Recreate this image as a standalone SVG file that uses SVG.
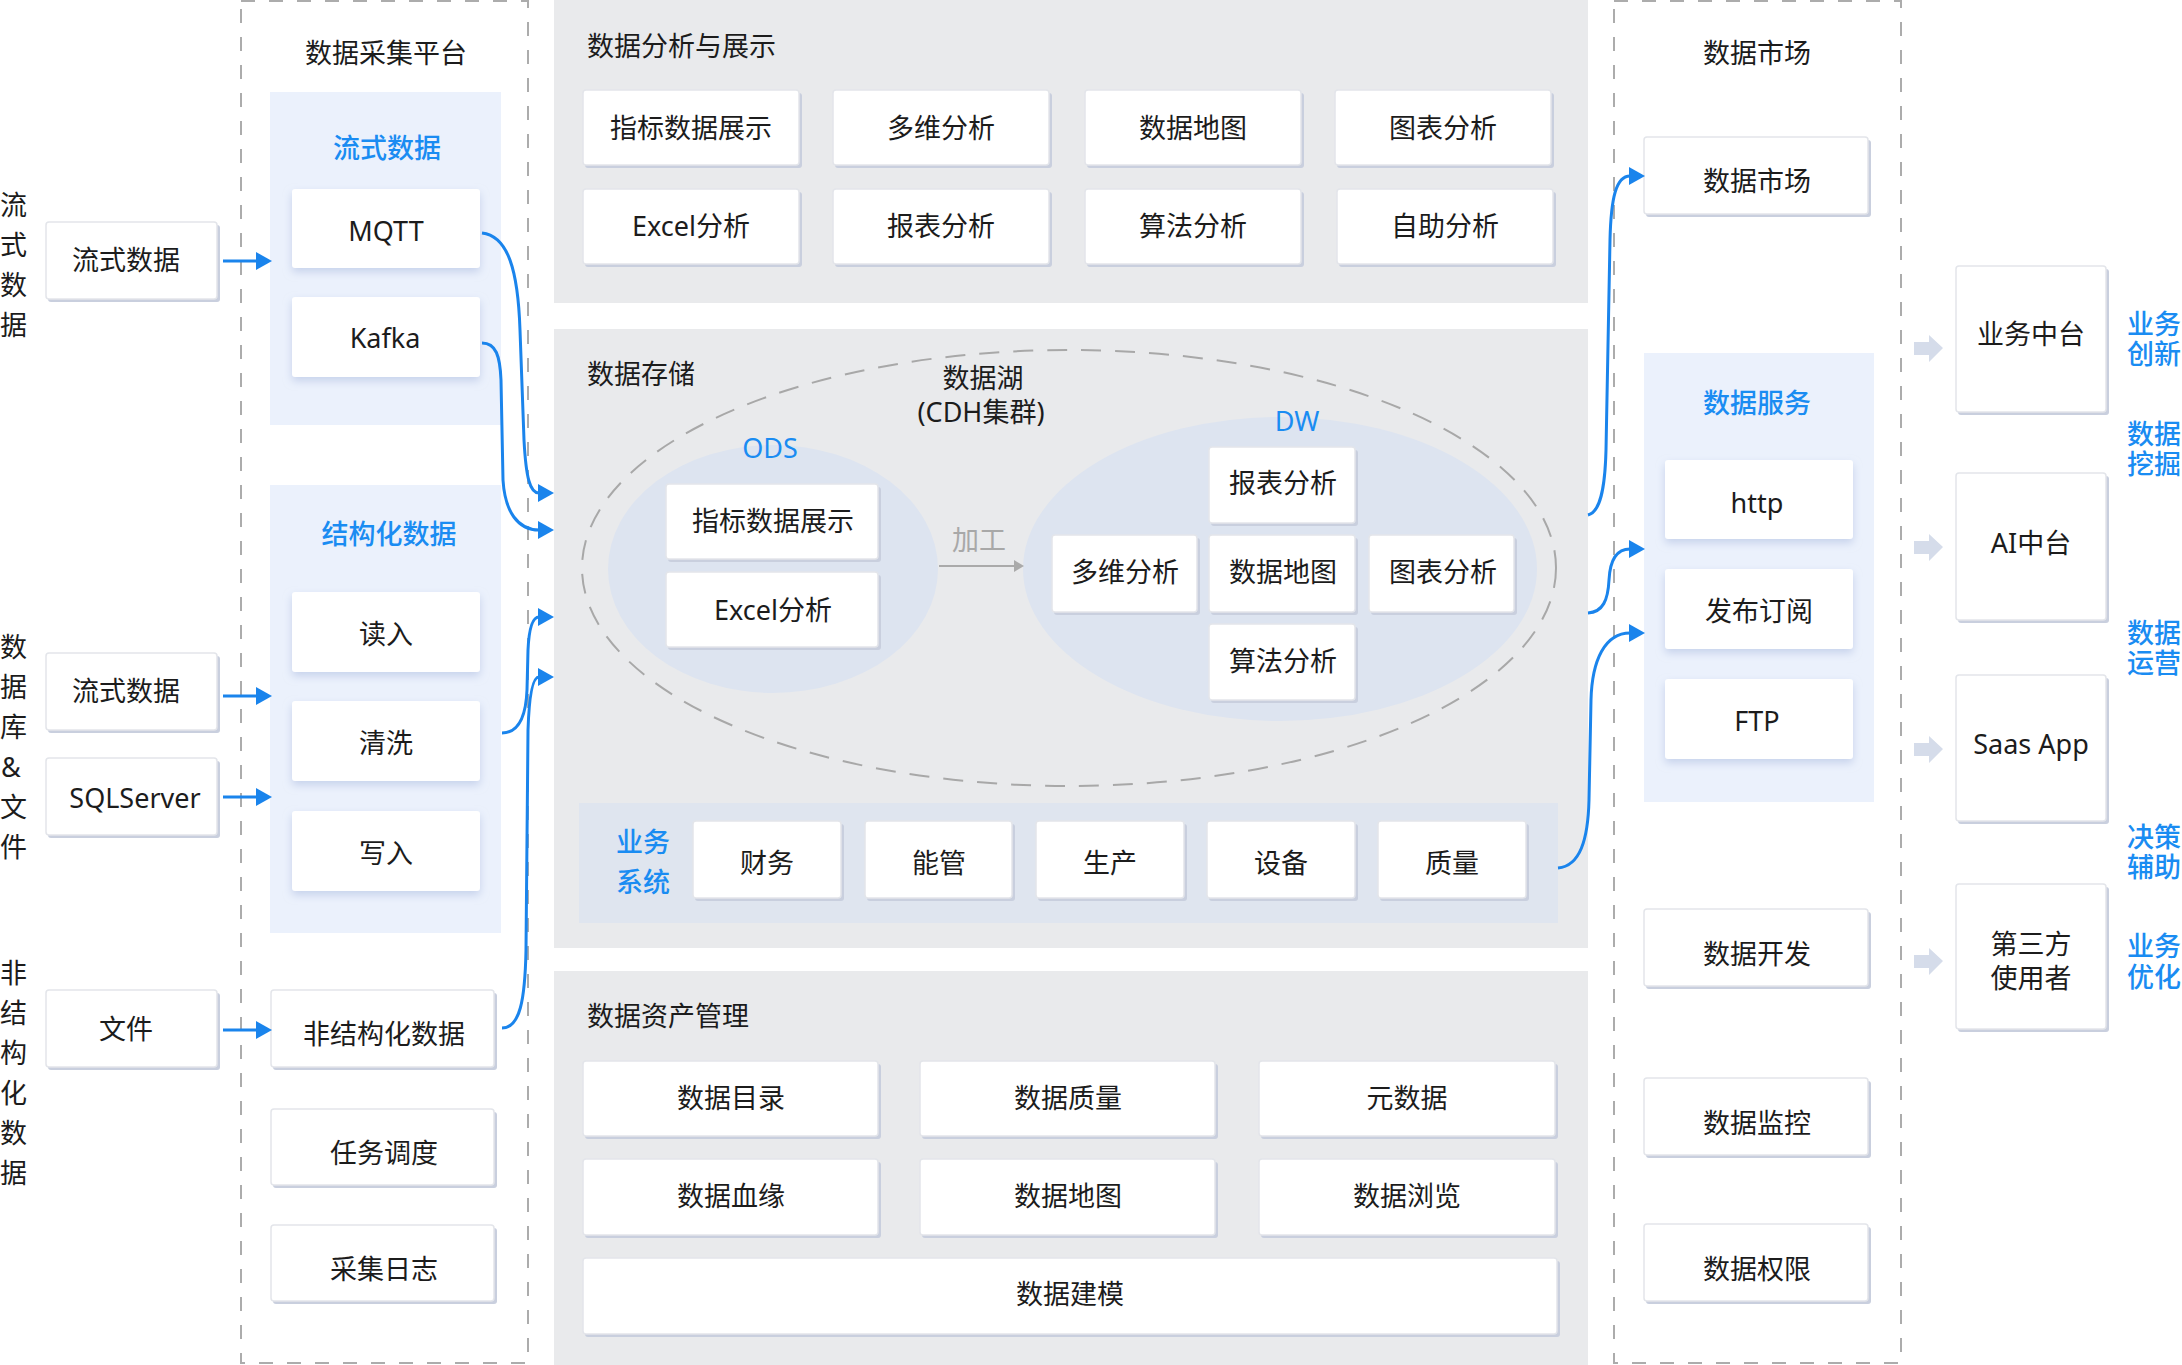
<svg xmlns="http://www.w3.org/2000/svg" width="2182" height="1365" viewBox="0 0 2182 1365">
<defs>
<style>
.t{font-family:"Noto Sans","Noto Sans CJK SC",sans-serif;font-size:27px;fill:#1c1c1c;text-anchor:middle;dominant-baseline:central}
.tl{text-anchor:start}
.blue{fill:#1a8cf2;font-weight:500}
.gray{fill:#a8a8a8}
.box{fill:#fff;stroke:#e3e5ea;stroke-width:1.5}
.sh{fill:#c9cfde}
.sbox{fill:#fff;filter:url(#soft)}
.panel{fill:#e9eaec}
.bpanel{fill:#ebf1fc}
.dash{fill:none;stroke:#acacac;stroke-width:2;stroke-dasharray:14 14}
.conn{fill:none;stroke:#1a84ec;stroke-width:3}
.barrow{fill:#d5dcea}
</style>
<filter id="soft" x="-20%" y="-20%" width="140%" height="150%">
<feDropShadow dx="0" dy="4" stdDeviation="4" flood-color="#aebde0" flood-opacity="0.6"/>
</filter>
<marker id="ah" markerUnits="userSpaceOnUse" markerWidth="16" markerHeight="18" refX="1" refY="9" orient="auto">
<path d="M0,0 L16,9 L0,18 z" fill="#1a84ec"/>
</marker>
<marker id="ahg" markerUnits="userSpaceOnUse" markerWidth="10" markerHeight="12" refX="1" refY="6" orient="auto">
<path d="M0,0 L10,6 L0,12 z" fill="#aaaaaa"/>
</marker>
</defs>
<rect width="2182" height="1365" fill="#ffffff"/>

<!-- side labels -->
<g id="label-stream">
<text class="t tl" x="0" y="204">流</text><text class="t tl" x="0" y="244">式</text><text class="t tl" x="0" y="284">数</text><text class="t tl" x="0" y="324">据</text>
</g>
<g id="label-db">
<text class="t tl" x="0" y="646">数</text><text class="t tl" x="0" y="686">据</text><text class="t tl" x="0" y="726">库</text><text class="t tl" x="1" y="766">&amp;</text><text class="t tl" x="0" y="806">文</text><text class="t tl" x="0" y="846">件</text>
</g>
<g id="label-unstruct">
<text class="t tl" x="0" y="972">非</text><text class="t tl" x="0" y="1012">结</text><text class="t tl" x="0" y="1052">构</text><text class="t tl" x="0" y="1092">化</text><text class="t tl" x="0" y="1132">数</text><text class="t tl" x="0" y="1172">据</text>
</g>

<!-- left sources -->
<g id="src-stream1"><rect class="sh" x="48" y="225" width="172" height="77" rx="3"/><rect class="box" x="46" y="222" width="171" height="77" rx="3"/><text class="t" x="126" y="259">流式数据</text></g>
<g id="src-stream2"><rect class="sh" x="48" y="656" width="172" height="77" rx="3"/><rect class="box" x="46" y="653" width="171" height="77" rx="3"/><text class="t" x="126" y="690">流式数据</text></g>
<g id="src-sql"><rect class="sh" x="48" y="761" width="172" height="77" rx="3"/><rect class="box" x="46" y="758" width="171" height="77" rx="3"/><text class="t" x="135" y="797">SQLServer</text></g>
<g id="src-file"><rect class="sh" x="48" y="993" width="172" height="77" rx="3"/><rect class="box" x="46" y="990" width="171" height="77" rx="3"/><text class="t" x="126" y="1028">文件</text></g>

<!-- collection platform -->
<g id="collect-platform">
<rect class="dash" x="241" y="1" width="287" height="1362"/>
<text class="t" x="386" y="52">数据采集平台</text>
</g>
<g id="stream-panel">
<rect class="bpanel" x="270" y="92" width="231" height="333"/>
<text class="t blue" x="387" y="147">流式数据</text>
</g>
<g id="n-mqtt"><rect class="sbox" x="292" y="189" width="188" height="79" rx="3"/><text class="t" x="386" y="230">MQTT</text></g>
<g id="n-kafka"><rect class="sbox" x="292" y="297" width="188" height="80" rx="3"/><text class="t" x="385" y="337">Kafka</text></g>
<g id="struct-panel">
<rect class="bpanel" x="270" y="485" width="231" height="448"/>
<text class="t blue" x="389" y="533">结构化数据</text>
</g>
<g id="n-read"><rect class="sbox" x="292" y="592" width="188" height="80" rx="3"/><text class="t" x="386" y="633">读入</text></g>
<g id="n-clean"><rect class="sbox" x="292" y="701" width="188" height="80" rx="3"/><text class="t" x="386" y="742">清洗</text></g>
<g id="n-write"><rect class="sbox" x="292" y="811" width="188" height="80" rx="3"/><text class="t" x="386" y="852">写入</text></g>
<g id="n-unstruct"><rect class="sh" x="273" y="993" width="224" height="77" rx="3"/><rect class="box" x="271" y="990" width="223" height="77" rx="3"/><text class="t" x="384" y="1033">非结构化数据</text></g>
<g id="n-task"><rect class="sh" x="273" y="1112" width="224" height="76" rx="3"/><rect class="box" x="271" y="1109" width="223" height="76" rx="3"/><text class="t" x="384" y="1152">任务调度</text></g>
<g id="n-log"><rect class="sh" x="273" y="1228" width="224" height="76" rx="3"/><rect class="box" x="271" y="1225" width="223" height="76" rx="3"/><text class="t" x="384" y="1268">采集日志</text></g>

<!-- analysis panel -->
<g id="analysis-panel">
<rect class="panel" x="554" y="0" width="1034" height="303"/>
<text class="t tl" x="587" y="45">数据分析与展示</text>
</g>
<g id="a1"><rect class="sh" x="585" y="93" width="217" height="75" rx="3"/><rect class="box" x="583" y="90" width="216" height="75" rx="3"/><text class="t" x="691" y="127">指标数据展示</text></g>
<g id="a2"><rect class="sh" x="835" y="93" width="217" height="75" rx="3"/><rect class="box" x="833" y="90" width="216" height="75" rx="3"/><text class="t" x="941" y="127">多维分析</text></g>
<g id="a3"><rect class="sh" x="1087" y="93" width="217" height="75" rx="3"/><rect class="box" x="1085" y="90" width="216" height="75" rx="3"/><text class="t" x="1193" y="127">数据地图</text></g>
<g id="a4"><rect class="sh" x="1337" y="93" width="217" height="75" rx="3"/><rect class="box" x="1335" y="90" width="216" height="75" rx="3"/><text class="t" x="1443" y="127">图表分析</text></g>
<g id="a5"><rect class="sh" x="585" y="192" width="217" height="75" rx="3"/><rect class="box" x="583" y="189" width="216" height="75" rx="3"/><text class="t" x="691" y="225">Excel分析</text></g>
<g id="a6"><rect class="sh" x="835" y="192" width="217" height="75" rx="3"/><rect class="box" x="833" y="189" width="216" height="75" rx="3"/><text class="t" x="941" y="225">报表分析</text></g>
<g id="a7"><rect class="sh" x="1087" y="192" width="217" height="75" rx="3"/><rect class="box" x="1085" y="189" width="216" height="75" rx="3"/><text class="t" x="1193" y="225">算法分析</text></g>
<g id="a8"><rect class="sh" x="1339" y="192" width="217" height="75" rx="3"/><rect class="box" x="1337" y="189" width="216" height="75" rx="3"/><text class="t" x="1445" y="225">自助分析</text></g>

<!-- storage panel -->
<g id="storage-panel">
<rect class="panel" x="554" y="329" width="1034" height="619"/>
<text class="t tl" x="587" y="373">数据存储</text>
<ellipse cx="1069" cy="568" rx="487" ry="218" fill="none" stroke="#a8a8a8" stroke-width="2" stroke-dasharray="20 14"/>
<text class="t" x="983" y="377">数据湖</text>
<text class="t" x="981" y="411">(CDH集群)</text>
</g>
<g id="ods">
<ellipse cx="773" cy="569" rx="165" ry="124" fill="#dde4f0"/>
<text class="t" x="770" y="447" style="fill:#1a8cf2">ODS</text>
</g>
<g id="ods1"><rect class="sh" x="668" y="487" width="213" height="75" rx="3"/><rect class="box" x="666" y="484" width="212" height="75" rx="3"/><text class="t" x="773" y="520">指标数据展示</text></g>
<g id="ods2"><rect class="sh" x="668" y="575" width="213" height="75" rx="3"/><rect class="box" x="666" y="572" width="212" height="75" rx="3"/><text class="t" x="773" y="609">Excel分析</text></g>
<g id="dw">
<ellipse cx="1280" cy="569" rx="257" ry="152" fill="#dde4f0"/>
<text class="t" x="1297" y="420" style="fill:#1a8cf2">DW</text>
</g>
<g id="dw1"><rect class="sh" x="1211" y="450" width="147" height="76" rx="3"/><rect class="box" x="1209" y="447" width="146" height="76" rx="3"/><text class="t" x="1283" y="482">报表分析</text></g>
<g id="dw2"><rect class="sh" x="1054" y="538" width="146" height="77" rx="3"/><rect class="box" x="1052" y="535" width="145" height="77" rx="3"/><text class="t" x="1125" y="571">多维分析</text></g>
<g id="dw3"><rect class="sh" x="1211" y="538" width="147" height="77" rx="3"/><rect class="box" x="1209" y="535" width="146" height="77" rx="3"/><text class="t" x="1283" y="571">数据地图</text></g>
<g id="dw4"><rect class="sh" x="1371" y="538" width="146" height="77" rx="3"/><rect class="box" x="1369" y="535" width="145" height="77" rx="3"/><text class="t" x="1443" y="571">图表分析</text></g>
<g id="dw5"><rect class="sh" x="1211" y="627" width="147" height="76" rx="3"/><rect class="box" x="1209" y="624" width="146" height="76" rx="3"/><text class="t" x="1283" y="660">算法分析</text></g>
<g id="biz-strip">
<rect x="579" y="803" width="979" height="120" fill="#dfe5ef"/>
<text class="t blue" x="643" y="841">业务</text>
<text class="t blue" x="643" y="881">系统</text>
</g>
<g id="b1"><rect class="sh" x="695" y="824" width="149" height="77" rx="3"/><rect class="box" x="693" y="821" width="148" height="77" rx="3"/><text class="t" x="767" y="862">财务</text></g>
<g id="b2"><rect class="sh" x="867" y="824" width="148" height="77" rx="3"/><rect class="box" x="865" y="821" width="147" height="77" rx="3"/><text class="t" x="939" y="862">能管</text></g>
<g id="b3"><rect class="sh" x="1038" y="824" width="149" height="77" rx="3"/><rect class="box" x="1036" y="821" width="148" height="77" rx="3"/><text class="t" x="1110" y="862">生产</text></g>
<g id="b4"><rect class="sh" x="1209" y="824" width="149" height="77" rx="3"/><rect class="box" x="1207" y="821" width="148" height="77" rx="3"/><text class="t" x="1281" y="862">设备</text></g>
<g id="b5"><rect class="sh" x="1380" y="824" width="149" height="77" rx="3"/><rect class="box" x="1378" y="821" width="148" height="77" rx="3"/><text class="t" x="1452" y="862">质量</text></g>

<!-- asset panel -->
<g id="asset-panel">
<rect class="panel" x="554" y="971" width="1034" height="394"/>
<text class="t tl" x="587" y="1015">数据资产管理</text>
</g>
<g id="m1"><rect class="sh" x="585" y="1064" width="296" height="75" rx="3"/><rect class="box" x="583" y="1061" width="295" height="75" rx="3"/><text class="t" x="731" y="1097">数据目录</text></g>
<g id="m2"><rect class="sh" x="922" y="1064" width="296" height="75" rx="3"/><rect class="box" x="920" y="1061" width="295" height="75" rx="3"/><text class="t" x="1068" y="1097">数据质量</text></g>
<g id="m3"><rect class="sh" x="1261" y="1064" width="297" height="75" rx="3"/><rect class="box" x="1259" y="1061" width="296" height="75" rx="3"/><text class="t" x="1407" y="1097">元数据</text></g>
<g id="m4"><rect class="sh" x="585" y="1162" width="296" height="76" rx="3"/><rect class="box" x="583" y="1159" width="295" height="76" rx="3"/><text class="t" x="731" y="1195">数据血缘</text></g>
<g id="m5"><rect class="sh" x="922" y="1162" width="296" height="76" rx="3"/><rect class="box" x="920" y="1159" width="295" height="76" rx="3"/><text class="t" x="1068" y="1195">数据地图</text></g>
<g id="m6"><rect class="sh" x="1261" y="1162" width="297" height="76" rx="3"/><rect class="box" x="1259" y="1159" width="296" height="76" rx="3"/><text class="t" x="1407" y="1195">数据浏览</text></g>
<g id="m7"><rect class="sh" x="585" y="1261" width="975" height="76" rx="3"/><rect class="box" x="583" y="1258" width="974" height="76" rx="3"/><text class="t" x="1070" y="1293">数据建模</text></g>

<!-- data market -->
<g id="market-platform">
<rect class="dash" x="1614" y="1" width="287" height="1362"/>
<text class="t" x="1757" y="52">数据市场</text>
</g>
<g id="r-market"><rect class="sh" x="1646" y="140" width="225" height="77" rx="3"/><rect class="box" x="1644" y="137" width="224" height="77" rx="3"/><text class="t" x="1757" y="180">数据市场</text></g>
<g id="service-panel">
<rect class="bpanel" x="1644" y="353" width="230" height="449"/>
<text class="t blue" x="1757" y="402">数据服务</text>
</g>
<g id="r-http"><rect class="sbox" x="1665" y="460" width="188" height="79" rx="3"/><text class="t" x="1757" y="502">http</text></g>
<g id="r-pub"><rect class="sbox" x="1665" y="569" width="188" height="80" rx="3"/><text class="t" x="1759" y="610">发布订阅</text></g>
<g id="r-ftp"><rect class="sbox" x="1665" y="679" width="188" height="80" rx="3"/><text class="t" x="1757" y="720">FTP</text></g>
<g id="r-dev"><rect class="sh" x="1646" y="912" width="225" height="77" rx="3"/><rect class="box" x="1644" y="909" width="224" height="77" rx="3"/><text class="t" x="1757" y="953">数据开发</text></g>
<g id="r-mon"><rect class="sh" x="1646" y="1081" width="225" height="77" rx="3"/><rect class="box" x="1644" y="1078" width="224" height="77" rx="3"/><text class="t" x="1757" y="1122">数据监控</text></g>
<g id="r-perm"><rect class="sh" x="1646" y="1227" width="225" height="77" rx="3"/><rect class="box" x="1644" y="1224" width="224" height="77" rx="3"/><text class="t" x="1757" y="1268">数据权限</text></g>

<!-- consumers -->
<g id="c-biz"><rect class="sh" x="1958" y="269" width="151" height="146" rx="3"/><rect class="box" x="1956" y="266" width="150" height="146" rx="3"/><text class="t" x="2031" y="333">业务中台</text></g>
<g id="c-ai"><rect class="sh" x="1958" y="476" width="151" height="147" rx="3"/><rect class="box" x="1956" y="473" width="150" height="147" rx="3"/><text class="t" x="2031" y="542">AI中台</text></g>
<g id="c-saas"><rect class="sh" x="1958" y="678" width="151" height="146" rx="3"/><rect class="box" x="1956" y="675" width="150" height="146" rx="3"/><text class="t" x="2031" y="743">Saas App</text></g>
<g id="c-third"><rect class="sh" x="1958" y="887" width="151" height="145" rx="3"/><rect class="box" x="1956" y="884" width="150" height="145" rx="3"/><text class="t" x="2031" y="960"><tspan x="2031" y="943">第三方</tspan><tspan x="2031" y="977">使用者</tspan></text></g>

<g id="value-labels">
<text class="t tl blue" x="2127" y="323"><tspan x="2127" y="323">业务</tspan><tspan x="2127" y="353">创新</tspan></text>
<text class="t tl blue" x="2127" y="433"><tspan x="2127" y="433">数据</tspan><tspan x="2127" y="463">挖掘</tspan></text>
<text class="t tl blue" x="2127" y="632"><tspan x="2127" y="632">数据</tspan><tspan x="2127" y="662">运营</tspan></text>
<text class="t tl blue" x="2127" y="836"><tspan x="2127" y="836">决策</tspan><tspan x="2127" y="866">辅助</tspan></text>
<text class="t tl blue" x="2127" y="945"><tspan x="2127" y="945">业务</tspan><tspan x="2127" y="976">优化</tspan></text>
</g>

<!-- connectors -->
<g id="connectors">
<path class="conn" d="M223,261 H257" marker-end="url(#ah)"/>
<path class="conn" d="M223,696 H257" marker-end="url(#ah)"/>
<path class="conn" d="M223,797 H257" marker-end="url(#ah)"/>
<path class="conn" d="M223,1030 H257" marker-end="url(#ah)"/>
<path class="conn" d="M482,233 C508,236 518,270 520,330 L524,440 C526,478 530,493 539,493" marker-end="url(#ah)"/>
<path class="conn" d="M482,343 C496,343 500,356 501,380 L503,480 C505,512 518,530 539,530" marker-end="url(#ah)"/>
<path class="conn" d="M502,733 C520,733 526,715 527,690 L528,650 C529,628 533,617 539,617" marker-end="url(#ah)"/>
<path class="conn" d="M502,1028 C520,1028 525,1000 526,950 L528,730 C529,700 532,677 539,677" marker-end="url(#ah)"/>
<path class="conn" d="M1588,515 C1600,512 1605,490 1606,450 L1610,240 C1611,198 1616,176 1630,176" marker-end="url(#ah)"/>
<path class="conn" d="M1588,613 C1603,612 1608,600 1609,580 C1610,560 1616,549 1630,549" marker-end="url(#ah)"/>
<path class="conn" d="M1558,868 C1580,866 1588,840 1589,800 L1591,700 C1592,660 1605,633 1630,633" marker-end="url(#ah)"/>
<path d="M939,566 H1015" fill="none" stroke="#aaaaaa" stroke-width="2" marker-end="url(#ahg)"/>
<text class="t gray" x="979" y="539">加工</text>
<path class="barrow" d="M1914,342 H1929 V335 L1943,348 L1929,362 V355 H1914 z"/>
<path class="barrow" d="M1914,541 H1929 V534 L1943,547 L1929,561 V554 H1914 z"/>
<path class="barrow" d="M1914,743 H1929 V736 L1943,749 L1929,763 V756 H1914 z"/>
<path class="barrow" d="M1914,955 H1929 V948 L1943,961 L1929,975 V968 H1914 z"/>
</g>
</svg>
